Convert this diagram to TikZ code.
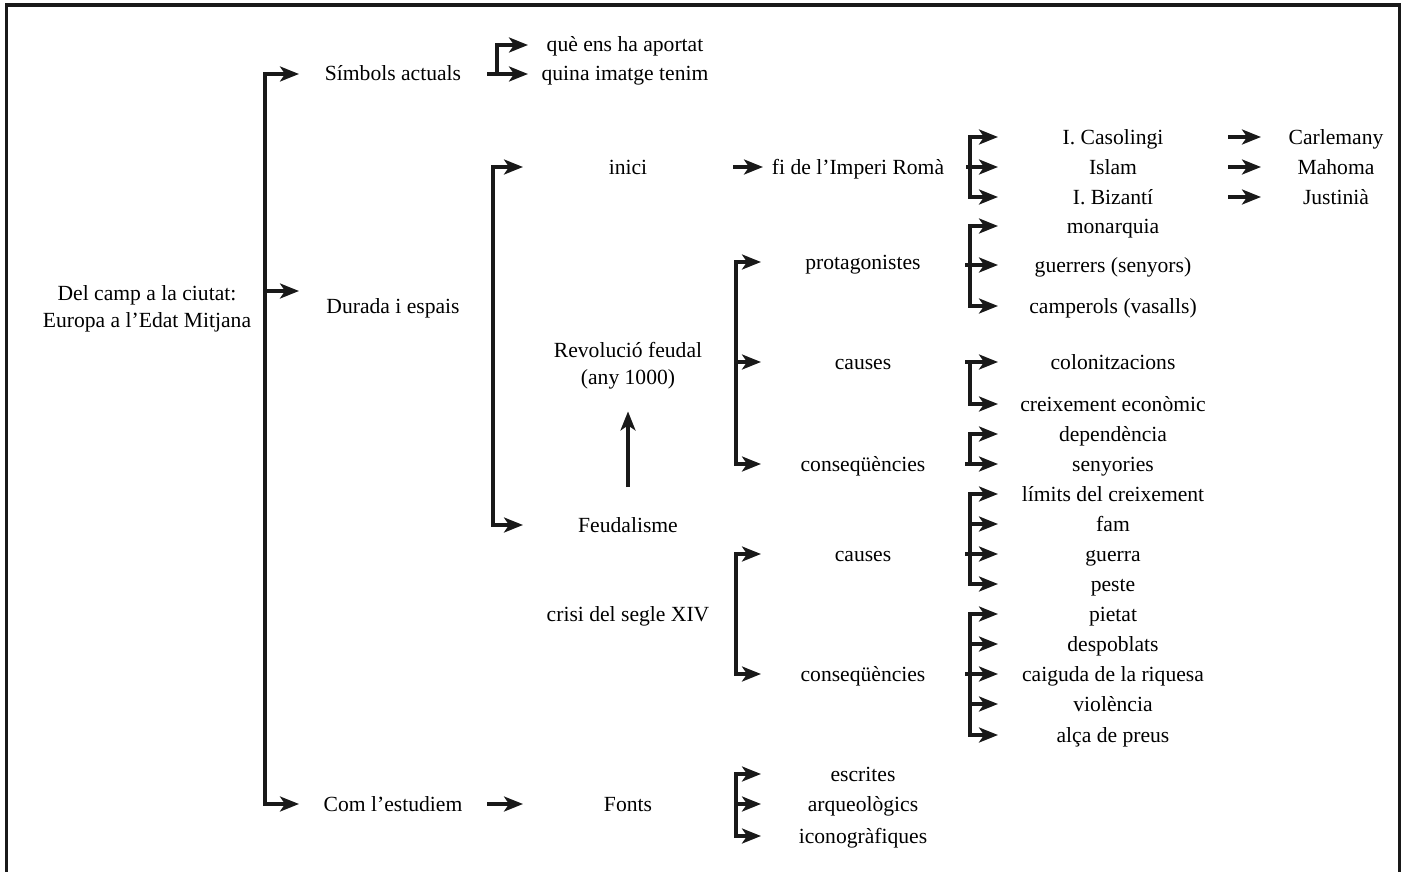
\documentclass[tikz,border=0pt]{standalone}
\usepackage{fontspec}
\setmainfont{Liberation Serif}
\usetikzlibrary{arrows.meta,positioning,calc}

\begin{document}
\begin{tikzpicture}[x=1pt,y=-1pt,
        every node/.style = {inner sep=0pt,outer sep=0pt,align=center,font=\fontsize{21.6}{27}\selectfont},
        line/.style = {text height=14pt,text depth=0pt},
        colA/.style = {line,minimum width=188pt},
        colB/.style = {line,minimum width=210pt},
        colC/.style = {line,minimum width=204pt},
        colD/.style = {line,minimum width=230pt},
        colE/.style = {line,minimum width=150pt},
        arr/.style = {line width=3.2pt,color=black!90,-{Stealth[length=19pt,width=15pt,inset=5pt]}},
        frame/.style = {line width=3.2pt,color=black!90},
        ]
        \useasboundingbox (0,0) rectangle (1407,872);
        \draw[frame] (6.5,880) -- (6.5,5) -- (1399.5,5) -- (1399.5,880);

        \node (root) at (147,309) {Del camp a la ciutat:\\Europa a l’Edat Mitjana};
        \node[colA] (simbols) at (393,74) {Símbols actuals};
        \node[colA] (durada) at (393,306) {Durada i espais};
        \node[colA] (estudiem) at (393,804) {Com l’estudiem};

        \node[colB,minimum width=194pt] (aportat) at (625,45) {què ens ha aportat};
        \node[colB,minimum width=194pt] (imatge) at (625,74) {quina imatge tenim};
        \node[colB] (inici) at (628,167) {inici};
        \node[minimum width=210pt] (revolucio) at (628,366) {Revolució feudal\\(any 1000)};
        \node[colB] (feudalisme) at (628,525) {Feudalisme};
        \node[colB] (crisi) at (628,614) {crisi del segle XIV};
        \node[colB] (fonts) at (628,804) {Fonts};

        \node[colC,minimum width=190pt] (imperi) at (858,167) {fi de l’Imperi Romà};
        \node[colC] (protag) at (863,262) {protagonistes};
        \node[colC] (causes-a) at (863,362) {causes};
        \node[colC] (conseq-a) at (863,464) {conseqüències};
        \node[colC] (causes-b) at (863,554) {causes};
        \node[colC] (conseq-b) at (863,674) {conseqüències};
        \node[colC] (escrites) at (863,774) {escrites};
        \node[colC] (arqueo) at (863,804) {arqueològics};
        \node[colC] (icono) at (863,836) {iconogràfiques};

        \node[colD] (casolingi) at (1113,137) {I. Casolingi};
        \node[colD] (islam) at (1113,167) {Islam};
        \node[colD] (bizanti) at (1113,197) {I. Bizantí};
        \node[colD] (monarquia) at (1113,226) {monarquia};
        \node[colD] (guerrers) at (1113,265) {guerrers (senyors)};
        \node[colD] (camperols) at (1113,306) {camperols (vasalls)};
        \node[colD] (colonitz) at (1113,362) {colonitzacions};
        \node[colD] (creixement) at (1113,404) {creixement econòmic};
        \node[colD] (dependencia) at (1113,434) {dependència};
        \node[colD] (senyories) at (1113,464) {senyories};
        \node[colD] (limits) at (1113,494) {límits del creixement};
        \node[colD] (fam) at (1113,524) {fam};
        \node[colD] (guerra) at (1113,554) {guerra};
        \node[colD] (peste) at (1113,584) {peste};
        \node[colD] (pietat) at (1113,614) {pietat};
        \node[colD] (despoblats) at (1113,644) {despoblats};
        \node[colD] (caiguda) at (1113,674) {caiguda de la riquesa};
        \node[colD] (violencia) at (1113,704) {violència};
        \node[colD] (alca) at (1113,735) {alça de preus};

        \node[colE] (carlemany) at (1336,137) {Carlemany};
        \node[colE] (mahoma) at (1336,167) {Mahoma};
        \node[colE] (justinia) at (1336,197) {Justinià};

        \coordinate (spine-main) at (265,0);
        \coordinate (spine-s) at (497,0);
        \coordinate (spine-b) at (493,0);
        \coordinate (spine-c) at (736,0);
        \coordinate (spine-d) at (970,0);
        \coordinate (durada-in) at ([yshift=15pt]durada.west);

        % main bracket
        \draw[arr] (spine-main |- durada-in) |- (simbols.west);
        \draw[arr] (spine-main |- durada-in) |- (estudiem.west);
        \draw[arr] (spine-main |- durada-in) -- (durada-in);

        \draw[arr] (simbols) -- (imatge);
        \draw[arr] (spine-s |- imatge) |- (aportat.west);

        \draw[arr] (spine-b |- feudalisme) |- (inici.west);
        \draw[arr] (spine-b |- inici) |- (feudalisme.west);
        \draw[arr,shorten <=31pt,shorten >=22pt] (feudalisme) -- (revolucio);
        \draw[arr] (inici) -- (imperi);
        \draw[arr] (estudiem) -- (fonts);

        \draw[arr] (spine-c |- conseq-a) |- (protag.west);
        \draw[arr] (spine-c |- protag) |- (conseq-a.west);
        \draw[arr] (spine-c |- causes-a) -- (causes-a.west);
        \draw[arr] (spine-c |- conseq-b) |- (causes-b.west);
        \draw[arr] (spine-c |- causes-b) |- (conseq-b.west);
        \draw[arr] (spine-c |- icono) |- (escrites.west);
        \draw[arr] (spine-c |- escrites) |- (icono.west);
        \draw[arr] (spine-c |- arqueo) -- (arqueo.west);

        \draw[arr] (spine-d |- bizanti) |- (casolingi.west);
        \draw[arr] (spine-d |- casolingi) |- (bizanti.west);
        \draw[arr] ([xshift=13pt]imperi.east) -- (islam);
        \draw[arr] (spine-d |- camperols) |- (monarquia.west);
        \draw[arr] (spine-d |- monarquia) |- (camperols.west);
        \draw[arr] (protag.east |- guerrers) -- (guerrers.west);
        \draw[arr] (causes-a) -- (colonitz);
        \draw[arr] (spine-d |- colonitz) |- (creixement.west);
        \draw[arr] (conseq-a) -- (senyories);
        \draw[arr] (spine-d |- senyories) |- (dependencia.west);
        \draw[arr] (spine-d |- peste) |- (limits.west);
        \draw[arr] (spine-d |- limits) |- (peste.west);
        \draw[arr] (spine-d |- fam) -- (fam.west);
        \draw[arr] (causes-b) -- (guerra);
        \draw[arr] (spine-d |- alca) |- (pietat.west);
        \draw[arr] (spine-d |- pietat) |- (alca.west);
        \draw[arr] (spine-d |- despoblats) -- (despoblats.west);
        \draw[arr] (spine-d |- violencia) -- (violencia.west);
        \draw[arr] (conseq-b) -- (caiguda);

        \draw[arr] (casolingi) -- (carlemany);
        \draw[arr] (islam) -- (mahoma);
        \draw[arr] (bizanti) -- (justinia);
\end{tikzpicture}
\end{document}
